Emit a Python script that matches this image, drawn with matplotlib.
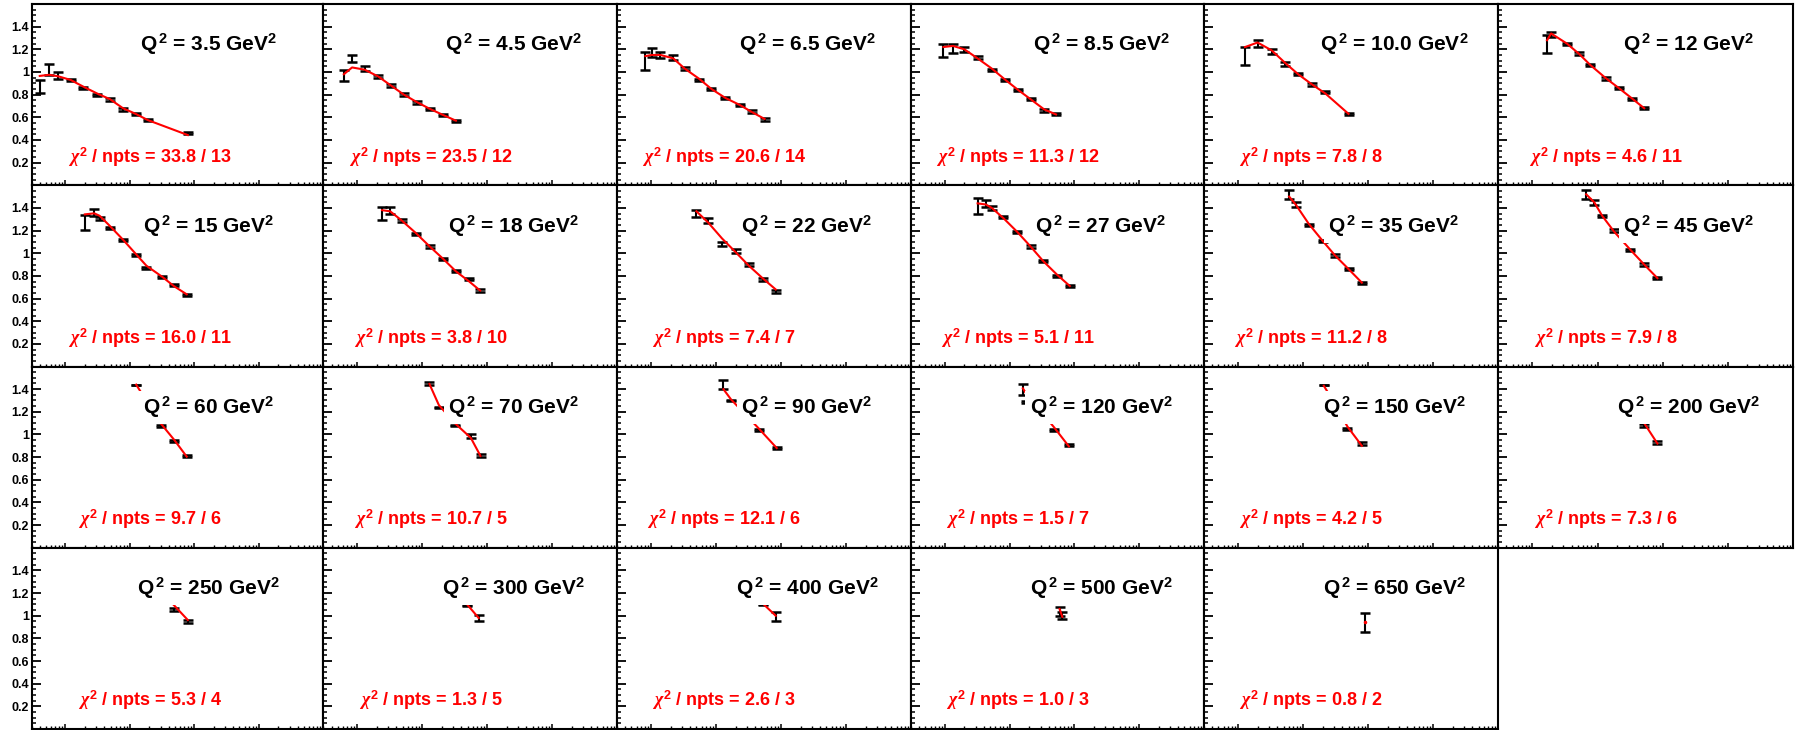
import matplotlib
matplotlib.use("Agg")
import matplotlib.pyplot as plt
from matplotlib.ticker import FixedLocator, LogLocator, MultipleLocator, NullFormatter, FuncFormatter

plt.rcParams["font.family"] = ["Liberation Sans", "DejaVu Sans"]
plt.rcParams["font.weight"] = "bold"
plt.rcParams["mathtext.fontset"] = "custom"
plt.rcParams["mathtext.rm"] = "Liberation Sans:bold"
plt.rcParams["mathtext.bf"] = "Liberation Sans:bold"
plt.rcParams["mathtext.it"] = "Liberation Serif:italic"

# panel labels and fit quality
q2_labels = ["3.5", "4.5", "6.5", "8.5", "10.0", "12",
             "15", "18", "22", "27", "35", "45",
             "60", "70", "90", "120", "150", "200",
             "250", "300", "400", "500", "650"]
chi2_values = ["33.8", "23.5", "20.6", "11.3", "7.8", "4.6",
               "16.0", "3.8", "7.4", "5.1", "11.2", "7.9",
               "9.7", "10.7", "12.1", "1.5", "4.2", "7.3",
               "5.3", "1.3", "2.6", "1.0", "0.8"]
npts_values = [13, 12, 14, 12, 8, 11,
               11, 10, 7, 11, 8, 8,
               6, 5, 6, 7, 5, 6,
               4, 5, 3, 3, 2]

# measured points (x, value, error) and fit curve at the same x
x_values = [
    [4.0e-5, 5.6e-5, 7.7e-5, 1.2e-4, 1.9e-4, 3.1e-4, 4.9e-4, 7.8e-4, 1.23e-3, 1.9e-3, 7.9e-3],
    [6.2e-5, 8.3e-5, 1.3e-4, 2.1e-4, 3.3e-4, 5.2e-4, 8.2e-4, 1.3e-3, 2.1e-3, 3.3e-3],
    [8.2e-5, 1.02e-4, 1.4e-4, 2.2e-4, 3.3e-4, 5.5e-4, 8.5e-4, 1.4e-3, 2.3e-3, 3.6e-3, 5.6e-3],
    [9.5e-5, 1.33e-4, 2.0e-4, 3.2e-4, 5.3e-4, 8.6e-4, 1.36e-3, 2.1e-3, 3.4e-3, 5.2e-3],
    [1.28e-4, 2.0e-4, 3.3e-4, 5.3e-4, 8.4e-4, 1.37e-3, 2.2e-3, 5.0e-3],
    [1.68e-4, 1.94e-4, 3.4e-4, 5.2e-4, 7.8e-4, 1.34e-3, 2.1e-3, 3.4e-3, 5.2e-3],
    [2.0e-4, 2.8e-4, 3.4e-4, 4.9e-4, 7.8e-4, 1.25e-3, 1.8e-3, 3.2e-3, 4.8e-3, 7.6e-3],
    [2.4e-4, 3.2e-4, 4.8e-4, 7.9e-4, 1.3e-3, 2.1e-3, 3.3e-3, 5.3e-3, 7.8e-3],
    [5.0e-4, 7.6e-4, 1.24e-3, 2.0e-3, 3.2e-3, 5.2e-3, 8.3e-3],
    [3.2e-4, 4.3e-4, 5.3e-4, 8.0e-4, 1.3e-3, 2.1e-3, 3.3e-3, 5.4e-3, 8.5e-3],
    [6.1e-4, 7.7e-4, 1.22e-3, 1.99e-3, 3.1e-3, 5.0e-3, 8.0e-3],
    [6.7e-4, 8.9e-4, 1.18e-3, 1.8e-3, 3.2e-3, 5.2e-3, 8.3e-3],
    [1.25e-3, 3.0e-3, 4.9e-3, 7.6e-3],
    [1.29e-3, 1.8e-3, 3.2e-3, 5.6e-3, 7.9e-3],
    [1.3e-3, 1.7e-3, 4.6e-3, 8.6e-3],
    [1.6e-3, 1.8e-3, 4.9e-3, 8.2e-3],
    [2.08e-3, 2.6e-3, 4.8e-3, 8.0e-3],
    [5.2e-3, 8.3e-3],
    [4.8e-3, 7.9e-3],
    [4.9e-3, 7.4e-3],
    [5.2e-3, 8.3e-3],
    [5.9e-3, 6.5e-3],
    [9.0e-3],
]
y_values = [
    [0.87, 1.02, 0.97, 0.928, 0.86, 0.796, 0.758, 0.669, 0.628, 0.575, 0.462],
    [0.97, 1.12, 1.03, 0.96, 0.88, 0.80, 0.73, 0.67, 0.62, 0.57],
    [1.10, 1.17, 1.15, 1.13, 1.03, 0.93, 0.85, 0.77, 0.71, 0.65, 0.58],
    [1.19, 1.21, 1.20, 1.13, 1.02, 0.93, 0.84, 0.76, 0.66, 0.63],
    [1.14, 1.25, 1.18, 1.07, 0.98, 0.89, 0.82, 0.63],
    [1.248, 1.333, 1.244, 1.164, 1.061, 0.943, 0.861, 0.761, 0.684],
    [1.271, 1.357, 1.308, 1.225, 1.117, 0.984, 0.872, 0.793, 0.719, 0.631],
    [1.35, 1.38, 1.29, 1.17, 1.06, 0.95, 0.84, 0.77, 0.67],
    [1.35, 1.29, 1.08, 1.02, 0.90, 0.77, 0.66],
    [1.42, 1.44, 1.40, 1.32, 1.19, 1.06, 0.93, 0.80, 0.71],
    [1.52, 1.43, 1.25, 1.11, 0.98, 0.86, 0.74],
    [1.52, 1.45, 1.33, 1.20, 1.03, 0.90, 0.78],
    [1.436, 1.077, 0.942, 0.812],
    [1.45, 1.238, 1.083, 0.986, 0.816],
    [1.44, 1.30, 1.04, 0.88],
    [1.397, 1.289, 1.039, 0.907],
    [1.44, 1.33, 1.05, 0.92],
    [1.08, 0.93],
    [1.056, 0.947],
    [1.09, 0.98],
    [1.10, 0.99],
    [1.04, 1.00],
    [0.94],
]
y_errors = [
    [0.058, 0.05, 0.03, 0.012, 0.01, 0.01, 0.01, 0.01, 0.01, 0.01, 0.01],
    [0.05, 0.03, 0.02, 0.012, 0.01, 0.01, 0.01, 0.01, 0.01, 0.01],
    [0.08, 0.04, 0.03, 0.02, 0.01, 0.01, 0.01, 0.01, 0.01, 0.01, 0.01],
    [0.06, 0.04, 0.02, 0.015, 0.01, 0.01, 0.01, 0.01, 0.01, 0.01],
    [0.08, 0.03, 0.02, 0.015, 0.01, 0.01, 0.01, 0.01],
    [0.078, 0.02, 0.01, 0.01, 0.01, 0.01, 0.01, 0.01, 0.01],
    [0.066, 0.03, 0.015, 0.01, 0.01, 0.01, 0.01, 0.01, 0.01, 0.01],
    [0.06, 0.03, 0.015, 0.01, 0.01, 0.01, 0.01, 0.01, 0.01],
    [0.03, 0.02, 0.02, 0.02, 0.015, 0.015, 0.015],
    [0.07, 0.03, 0.02, 0.01, 0.01, 0.01, 0.01, 0.01, 0.01],
    [0.04, 0.02, 0.01, 0.01, 0.01, 0.01, 0.01],
    [0.04, 0.02, 0.01, 0.01, 0.01, 0.01, 0.01],
    [0.0, 0.01, 0.01, 0.01],
    [0.015, 0.003, 0.005, 0.015, 0.015],
    [0.04, 0.005, 0.01, 0.01],
    [0.05, 0.01, 0.012, 0.01],
    [0.0, 0.005, 0.01, 0.012],
    [0.01, 0.01],
    [0.015, 0.015],
    [0.003, 0.025],
    [0.003, 0.04],
    [0.04, 0.03],
    [0.085],
]
fit_values = [
    [0.965, 0.975, 0.962, 0.93, 0.87, 0.81, 0.76, 0.68, 0.63, 0.575, 0.443],
    [0.98, 1.04, 1.02, 0.96, 0.88, 0.80, 0.735, 0.675, 0.62, 0.57],
    [1.14, 1.15, 1.15, 1.12, 1.03, 0.94, 0.85, 0.77, 0.71, 0.645, 0.585],
    [1.22, 1.23, 1.20, 1.12, 1.03, 0.93, 0.84, 0.76, 0.67, 0.625],
    [1.22, 1.26, 1.19, 1.08, 0.98, 0.89, 0.81, 0.63],
    [1.28, 1.34, 1.25, 1.16, 1.06, 0.945, 0.86, 0.765, 0.68],
    [1.343, 1.352, 1.33, 1.24, 1.12, 0.99, 0.89, 0.79, 0.71, 0.637],
    [1.38, 1.37, 1.29, 1.18, 1.06, 0.95, 0.84, 0.75, 0.67],
    [1.37, 1.27, 1.13, 1.01, 0.89, 0.78, 0.68],
    [1.44, 1.43, 1.40, 1.31, 1.19, 1.06, 0.93, 0.81, 0.71],
    [1.50, 1.43, 1.26, 1.11, 0.98, 0.86, 0.74],
    [1.52, 1.45, 1.33, 1.19, 1.03, 0.90, 0.78],
    [1.44, 1.098, 0.95, 0.804],
    [1.446, 1.26, 1.098, 0.97, 0.81],
    [1.40, 1.31, 1.05, 0.88],
    [1.407, 1.36, 1.06, 0.895],
    [1.43, 1.34, 1.07, 0.90],
    [1.10, 0.92],
    [1.094, 0.962],
    [1.10, 0.98],
    [1.11, 1.00],
    [1.06, 0.99],
    [0.945],
]

W, H = 1799, 730
col_edges = [31.7, 323.4, 617.0, 911.0, 1204.0, 1498.3, 1793.0]
row_top, row_h = 4.0, 181.25

fig = plt.figure(figsize=(W / 100, H / 100), dpi=100)

for i, q2 in enumerate(q2_labels):
    r, c = divmod(i, 6)
    left = col_edges[c]
    width = col_edges[c + 1] - left
    bottom = H - row_top - (r + 1) * row_h
    ax = fig.add_axes([left / W, bottom / H, width / W, row_h / H])

    ax.errorbar(x_values[i], y_values[i], yerr=y_errors[i], fmt="none",
                ecolor="black", elinewidth=1.5, capsize=3.6, capthick=1.8, zorder=3)
    if len(fit_values[i]) > 1:
        ax.plot(x_values[i], fit_values[i], color="red", lw=1.5, zorder=4)
    else:
        ax.plot(x_values[i], fit_values[i], "o", color="red", ms=1.5, zorder=4)

    ax.set_xscale("log")
    ax.set_xlim(3e-5, 1)
    ax.set_ylim(0, 1.6)

    ax.xaxis.set_major_locator(FixedLocator([1e-4, 1e-3, 1e-2, 1e-1]))
    ax.xaxis.set_minor_locator(LogLocator(base=10, subs=range(2, 10), numticks=20))
    ax.xaxis.set_major_formatter(NullFormatter())
    ax.xaxis.set_minor_formatter(NullFormatter())
    ax.yaxis.set_major_locator(FixedLocator([0.2, 0.4, 0.6, 0.8, 1.0, 1.2, 1.4]))
    ax.yaxis.set_minor_locator(MultipleLocator(0.05))
    if c == 0:
        ax.yaxis.set_major_formatter(FuncFormatter(lambda v, p: f"{v:g}"))
    else:
        ax.yaxis.set_major_formatter(NullFormatter())

    ax.tick_params(axis="x", which="major", direction="in", length=3.6, width=1.1)
    ax.tick_params(axis="x", which="minor", direction="in", length=2.0, width=1.0)
    ax.tick_params(axis="y", which="major", direction="in", length=6.5, width=1.3,
                   labelsize=9, pad=2.0)
    ax.tick_params(axis="y", which="minor", direction="in", length=3.2, width=1.1)
    for sp in ax.spines.values():
        sp.set_linewidth(1.5)

    title_off = 177 if c == 0 else 190
    chi_off = 118.3 if c == 0 else 107.2
    ax.text(title_off / width, 1 - 47.3 / row_h,
            r"Q$^{\,\mathbf{2}}$ = " + q2 + r" GeV$^{\mathbf{2}}$",
            transform=ax.transAxes, ha="center", va="baseline",
            fontsize=15, fontweight="bold", color="black", zorder=6,
            bbox=dict(facecolor="white", edgecolor="none", pad=3))
    ax.text(chi_off / width, 22.5 / row_h,
            r"$\chi^{\mathbf{2}}$ / npts = " + chi2_values[i] + " / " + str(npts_values[i]),
            transform=ax.transAxes, ha="center", va="baseline",
            fontsize=13, fontweight="bold", color="red", zorder=6)

fig.savefig("out.png", dpi=100)
